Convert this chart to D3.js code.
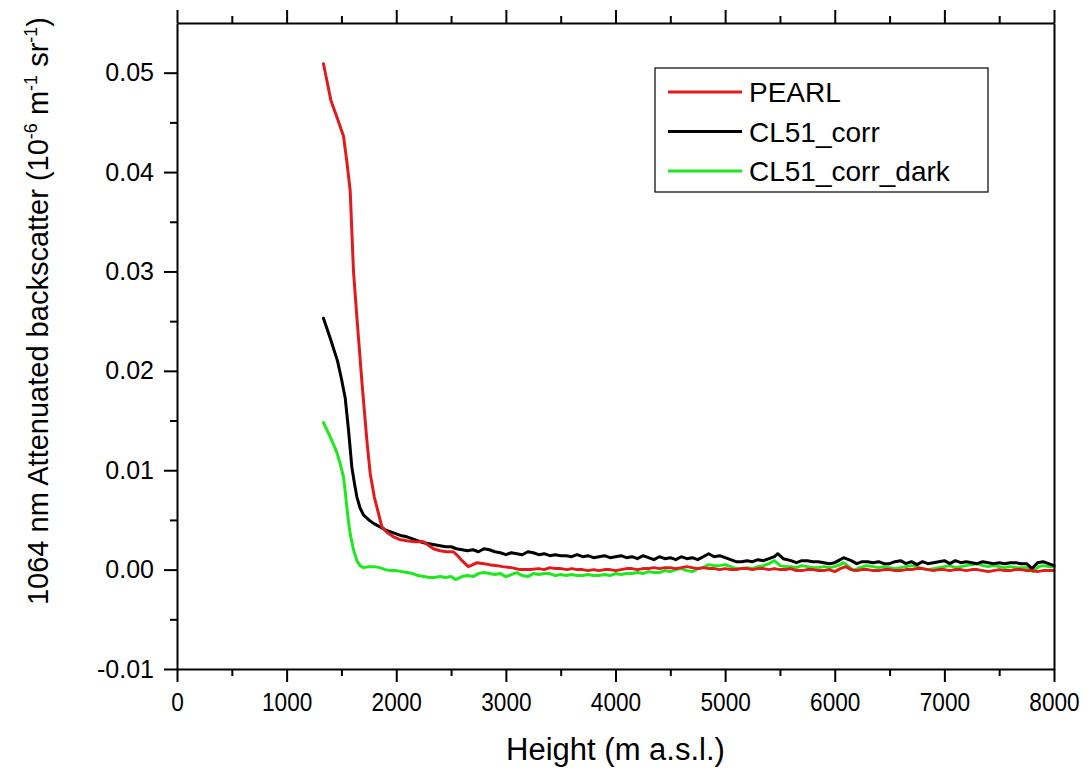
<!DOCTYPE html>
<html><head><meta charset="utf-8">
<script src="https://cdn.jsdelivr.net/npm/d3@7"></script>
<style>body{margin:0;background:#fff}svg{display:block}text{font-family:"Liberation Sans",Arial,sans-serif;fill:#000}</style>
</head><body><svg id="c" width="1088" height="774"></svg>
<script>
const seriesNames = ["PEARL","CL51_corr","CL51_corr_dark"];
const seriesColors = ["#e31a1c","#000000","#1ee81e"];
const xTicks = [0,1000,2000,3000,4000,5000,6000,7000,8000];
const yTicks = [-0.01,0.00,0.01,0.02,0.03,0.04,0.05];
const yTickLabels = ["-0.01","0.00","0.01","0.02","0.03","0.04","0.05"];

const pearl = [[1336,0.0509],[1404,0.0472],[1460,0.0455],[1519,0.0436],[1550,0.0410],[1580,0.0381],[1610,0.0300],[1640,0.0255],[1686,0.0190],[1732,0.0130],[1762,0.0097],[1800,0.0073],[1823,0.0063],[1869,0.0043],[1920,0.0037],[1975,0.0033],[2040,0.0030],[2097,0.0029],[2170,0.0028],[2248,0.0028],[2300,0.0024],[2339,0.0021],[2400,0.0019],[2460,0.0018],[2521,0.0018],[2560,0.0014],[2600,0.0009],[2658,0.0003],[2700,0.0005],[2735,0.0007],[2800,0.0006],[2850,0.0005],[2917,0.0004],[2970,0.0003],[3050,0.0002],[3130,0.0000],[3221,0.0000],[3300,0.0001],[3350,0.0000],[3403,0.0002],[3450,0.0001],[3500,0.0001],[3560,0.0000],[3600,0.0001],[3650,0.0000],[3700,0.0000],[3750,-0.0001],[3800,0.0000],[3850,-0.0001],[3900,0.0000],[3950,0.0000],[4000,-0.0001],[4050,0.0000],[4100,0.0001],[4150,0.0001],[4200,0.0000],[4250,0.0001],[4300,0.0001],[4350,0.0002],[4400,0.0001],[4450,0.0002],[4500,0.0002],[4550,0.0001],[4600,0.0002],[4650,0.0003],[4700,0.0002],[4750,0.0001],[4800,0.0002],[4850,0.0001],[4900,0.0001],[4950,0.0000],[5000,0.0001],[5050,0.0000],[5100,0.0000],[5150,0.0001],[5200,0.0001],[5250,0.0000],[5300,0.0001],[5350,0.0001],[5400,0.0000],[5450,0.0001],[5500,0.0000],[5550,0.0000],[5600,0.0001],[5650,-0.0001],[5700,-0.0001],[5750,0.0000],[5800,0.0000],[5850,-0.0001],[5900,-0.0001],[5950,0.0000],[6000,-0.0002],[6050,0.0001],[6100,0.0003],[6150,0.0000],[6200,-0.0001],[6250,0.0000],[6300,0.0000],[6350,-0.0001],[6400,-0.0001],[6450,0.0000],[6500,0.0000],[6550,-0.0001],[6600,-0.0001],[6650,0.0000],[6700,0.0000],[6750,0.0001],[6800,0.0001],[6850,0.0000],[6900,-0.0001],[6950,0.0000],[7000,0.0000],[7050,-0.0001],[7100,0.0000],[7150,0.0000],[7200,-0.0001],[7250,0.0000],[7300,0.0000],[7350,-0.0001],[7400,-0.0002],[7450,-0.0001],[7500,0.0000],[7550,-0.0001],[7600,-0.0001],[7650,0.0000],[7700,0.0000],[7750,-0.0001],[7800,-0.0001],[7850,-0.0002],[7900,-0.0001],[7950,-0.0001],[8000,-0.0001]];

const cl51 = [[1336,0.0253],[1400,0.0232],[1464,0.0210],[1500,0.0192],[1534,0.0173],[1565,0.0140],[1595,0.0103],[1620,0.0086],[1641,0.0073],[1670,0.0062],[1701,0.0055],[1750,0.0050],[1800,0.0046],[1853,0.0043],[1900,0.0040],[1950,0.0038],[2000,0.0036],[2050,0.0034],[2097,0.0033],[2150,0.0031],[2200,0.0029],[2250,0.0027],[2300,0.0026],[2350,0.0025],[2400,0.0024],[2450,0.0023],[2500,0.0023],[2550,0.0021],[2600,0.0020],[2650,0.0019],[2700,0.0020],[2750,0.0018],[2800,0.0021],[2850,0.0020],[2900,0.0018],[2950,0.0017],[3000,0.0015],[3050,0.0017],[3100,0.0016],[3150,0.0015],[3200,0.0018],[3250,0.0017],[3300,0.0015],[3350,0.0016],[3400,0.0014],[3450,0.0015],[3500,0.0014],[3550,0.0014],[3600,0.0013],[3650,0.0015],[3700,0.0013],[3750,0.0014],[3800,0.0012],[3850,0.0013],[3900,0.0014],[3950,0.0012],[4000,0.0013],[4050,0.0014],[4100,0.0012],[4150,0.0013],[4200,0.0011],[4250,0.0014],[4300,0.0012],[4350,0.0010],[4400,0.0013],[4450,0.0011],[4500,0.0012],[4550,0.0010],[4600,0.0013],[4650,0.0011],[4700,0.0012],[4750,0.0010],[4800,0.0013],[4850,0.0016],[4900,0.0013],[4950,0.0014],[5000,0.0012],[5050,0.0010],[5100,0.0008],[5150,0.0008],[5200,0.0009],[5250,0.0008],[5300,0.0010],[5350,0.0009],[5400,0.0011],[5450,0.0013],[5480,0.0016],[5530,0.0011],[5600,0.0009],[5650,0.0007],[5700,0.0009],[5750,0.0009],[5800,0.0008],[5850,0.0008],[5900,0.0007],[5950,0.0006],[6000,0.0007],[6050,0.0010],[6080,0.0012],[6150,0.0009],[6200,0.0006],[6250,0.0008],[6300,0.0008],[6350,0.0007],[6400,0.0008],[6450,0.0006],[6500,0.0006],[6550,0.0008],[6600,0.0009],[6650,0.0006],[6700,0.0008],[6750,0.0005],[6800,0.0008],[6850,0.0006],[6900,0.0007],[6950,0.0008],[7000,0.0009],[7050,0.0006],[7100,0.0009],[7150,0.0007],[7200,0.0008],[7250,0.0007],[7300,0.0006],[7350,0.0008],[7400,0.0007],[7450,0.0006],[7500,0.0007],[7550,0.0006],[7600,0.0007],[7650,0.0007],[7700,0.0006],[7750,0.0006],[7800,0.0001],[7850,0.0007],[7900,0.0008],[7950,0.0006],[8000,0.0004]];

const cl51dark = [[1336,0.0148],[1400,0.0133],[1458,0.0118],[1490,0.0106],[1519,0.0093],[1535,0.0078],[1549,0.0063],[1565,0.0048],[1580,0.0036],[1610,0.0020],[1641,0.0009],[1670,0.0004],[1701,0.0002],[1750,0.0003],[1800,0.0003],[1850,0.0002],[1900,0.0000],[1950,-0.0001],[2000,-0.0001],[2050,-0.0002],[2100,-0.0003],[2150,-0.0004],[2200,-0.0006],[2250,-0.0007],[2300,-0.0008],[2350,-0.0008],[2400,-0.0007],[2450,-0.0008],[2500,-0.0007],[2540,-0.0010],[2600,-0.0007],[2650,-0.0006],[2700,-0.0007],[2750,-0.0004],[2800,-0.0003],[2850,-0.0004],[2900,-0.0005],[2950,-0.0004],[3000,-0.0007],[3050,-0.0005],[3100,-0.0003],[3150,-0.0006],[3200,-0.0007],[3250,-0.0004],[3300,-0.0005],[3350,-0.0004],[3400,-0.0004],[3450,-0.0006],[3500,-0.0005],[3550,-0.0006],[3600,-0.0005],[3650,-0.0006],[3700,-0.0006],[3750,-0.0005],[3800,-0.0006],[3850,-0.0006],[3900,-0.0005],[3950,-0.0006],[4000,-0.0004],[4050,-0.0005],[4100,-0.0004],[4150,-0.0004],[4200,-0.0003],[4250,-0.0004],[4300,-0.0002],[4350,-0.0003],[4400,-0.0003],[4450,-0.0001],[4500,-0.0002],[4550,0.0000],[4600,0.0001],[4650,-0.0001],[4700,-0.0002],[4750,0.0001],[4800,0.0002],[4850,0.0005],[4900,0.0004],[4950,0.0004],[5000,0.0005],[5050,0.0003],[5100,0.0001],[5150,0.0001],[5200,0.0002],[5250,0.0001],[5300,0.0003],[5350,0.0004],[5400,0.0006],[5450,0.0009],[5500,0.0004],[5550,0.0003],[5600,0.0003],[5650,0.0002],[5700,0.0004],[5750,0.0003],[5800,0.0002],[5850,0.0002],[5900,0.0003],[5950,0.0002],[6000,0.0003],[6050,0.0005],[6080,0.0007],[6130,0.0003],[6170,-0.0001],[6230,0.0002],[6290,0.0004],[6350,0.0003],[6400,0.0002],[6450,0.0003],[6500,0.0002],[6550,0.0001],[6600,0.0002],[6650,0.0003],[6700,0.0004],[6750,0.0003],[6800,0.0001],[6850,0.0000],[6900,0.0001],[6950,0.0002],[7000,0.0003],[7050,0.0004],[7100,0.0002],[7150,0.0003],[7200,0.0004],[7250,0.0005],[7300,0.0006],[7350,0.0004],[7400,0.0003],[7450,0.0004],[7500,0.0003],[7550,0.0002],[7600,0.0003],[7650,0.0002],[7700,0.0002],[7750,0.0002],[7810,-0.0002],[7860,0.0003],[7900,0.0004],[7950,0.0003],[8000,0.0003]];

const series = [pearl, cl51, cl51dark];

(function(){
const svg = d3.select("#c");
const L = 177, R = 1054, T = 23, B = 669;
const x = d3.scaleLinear().domain([0,8000]).range([L,R]);
const y = d3.scaleLinear().domain([-0.01,0.055]).range([B,T]);

const minorX = d3.range(500,8000,1000);
const minorY = d3.range(-0.005,0.055,0.01);

const gPlot = svg.append("g");
const line = d3.line().x(d=>x(d[0])).y(d=>y(d[1]));
[2,1,0].forEach(i=>{
  gPlot.append("path").datum(series[i]).attr("d",line)
    .attr("fill","none").attr("stroke",seriesColors[i]).attr("stroke-width",3)
    .attr("stroke-linejoin","round").attr("stroke-linecap","round");
});

function styleAxis(g){
  g.select(".domain").attr("stroke","#000").attr("stroke-width",2);
  g.selectAll(".tick line").attr("stroke","#000").attr("stroke-width",2);
}
const axB = svg.append("g").attr("transform",`translate(0,${B})`)
  .call(d3.axisBottom(x).tickValues(xTicks).tickSize(13).tickSizeOuter(0).tickPadding(11).tickFormat(d3.format("d")));
styleAxis(axB);
axB.selectAll("text").attr("font-size",26).attr("font-family","Liberation Sans, Arial")
  .attr("transform","scale(0.87,1)");
svg.append("g").attr("transform",`translate(0,${B})`)
  .call(d3.axisBottom(x).tickValues(minorX).tickSize(7).tickFormat("")).call(g=>{g.select(".domain").remove();styleAxis(g);});

const axT = svg.append("g").attr("transform",`translate(0,${T})`)
  .call(d3.axisTop(x).tickValues(xTicks).tickSize(13).tickSizeOuter(0).tickFormat(""));
styleAxis(axT);
svg.append("g").attr("transform",`translate(0,${T})`)
  .call(d3.axisTop(x).tickValues(minorX).tickSize(7).tickFormat("")).call(g=>{g.select(".domain").remove();styleAxis(g);});

const axL = svg.append("g").attr("transform",`translate(${L},0)`)
  .call(d3.axisLeft(y).tickValues(yTicks).tickSize(13).tickSizeOuter(0).tickPadding(10).tickFormat((d,i)=>yTickLabels[i]));
styleAxis(axL);
axL.selectAll("text").attr("font-size",25).attr("font-family","Liberation Sans, Arial");
svg.append("g").attr("transform",`translate(${L},0)`)
  .call(d3.axisLeft(y).tickValues(minorY).tickSize(7).tickFormat("")).call(g=>{g.select(".domain").remove();styleAxis(g);});

const axR = svg.append("g").attr("transform",`translate(${R},0)`)
  .call(d3.axisRight(y).tickValues([]).tickSizeOuter(0));
styleAxis(axR);

svg.append("text").attr("x",(L+R)/2).attr("y",760).attr("text-anchor","middle")
  .attr("font-size",31).text("Height (m a.s.l.)");

const yt = svg.append("text").attr("transform","translate(48,311) rotate(-90)")
  .attr("text-anchor","middle").attr("font-size",29);
yt.append("tspan").text("1064 nm Attenuated backscatter (10");
yt.append("tspan").attr("dy",-11).attr("font-size",18).text("-6");
yt.append("tspan").attr("dy",11).text(" m");
yt.append("tspan").attr("dy",-11).attr("font-size",18).text("-1");
yt.append("tspan").attr("dy",11).text(" sr");
yt.append("tspan").attr("dy",-11).attr("font-size",18).text("-1");
yt.append("tspan").attr("dy",11).text(")");

const lg = svg.append("g");
lg.append("rect").attr("x",655).attr("y",68).attr("width",333).attr("height",124)
  .attr("fill","#fff").attr("stroke","#000").attr("stroke-width",1.2);
seriesNames.forEach((n,i)=>{
  const yy = 92 + i*39.5;
  lg.append("line").attr("x1",668).attr("x2",742).attr("y1",yy).attr("y2",yy)
    .attr("stroke",seriesColors[i]).attr("stroke-width",3);
  lg.append("text").attr("x",749).attr("y",yy+10).attr("font-size",28).text(n);
});
})();
</script></body></html>
